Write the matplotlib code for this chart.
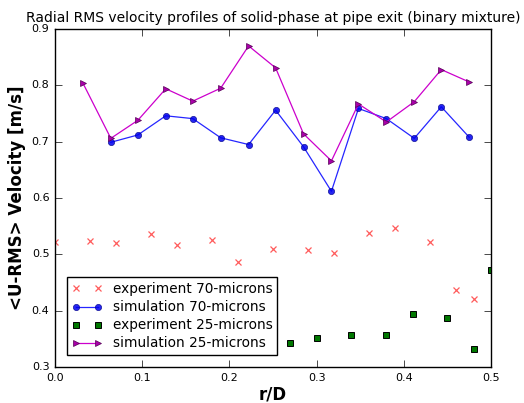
import matplotlib
matplotlib.use("Agg")
import matplotlib.pyplot as plt

plt.style.use("classic")

# experiment 70 microns
exp70_x = [0.0, 0.04, 0.07, 0.11, 0.14, 0.18, 0.21, 0.25, 0.29, 0.32, 0.36, 0.39, 0.43, 0.46, 0.48]
exp70_y = [0.522, 0.524, 0.520, 0.536, 0.517, 0.525, 0.487, 0.509, 0.508, 0.503, 0.538, 0.547, 0.522, 0.437, 0.421]

# simulation 70 microns
sim70_x = [0.064, 0.095, 0.127, 0.158, 0.190, 0.222, 0.253, 0.285, 0.317, 0.348, 0.380, 0.412, 0.443, 0.475]
sim70_y = [0.699, 0.712, 0.746, 0.741, 0.707, 0.695, 0.756, 0.691, 0.612, 0.759, 0.741, 0.706, 0.762, 0.708]

# experiment 25 microns
exp25_x = [0.27, 0.30, 0.34, 0.38, 0.41, 0.45, 0.48, 0.50]
exp25_y = [0.343, 0.351, 0.357, 0.357, 0.394, 0.387, 0.333, 0.472]

# simulation 25 microns
sim25_x = [0.032, 0.064, 0.095, 0.127, 0.158, 0.190, 0.222, 0.253, 0.285, 0.317, 0.348, 0.380, 0.412, 0.443, 0.475]
sim25_y = [0.804, 0.706, 0.738, 0.794, 0.772, 0.795, 0.870, 0.831, 0.714, 0.666, 0.767, 0.735, 0.771, 0.828, 0.806]

fig = plt.figure(figsize=(5.24, 4.03), dpi=100, facecolor="white")
ax = fig.add_axes([0.105, 0.089, 0.832, 0.839])

ax.plot(exp70_x, exp70_y, "x", color="#ff3333", alpha=0.8, ms=4.5, mew=0.9,
        label="experiment 70-microns")
ax.plot(sim70_x, sim70_y, "o-", color="#0000ff", mfc="#0000ee", mec="#000088",
        ms=4.5, lw=0.9, alpha=0.85, label="simulation 70-microns")
ax.plot(exp25_x, exp25_y, "s", color="#007700", mec="black", ms=4.5, mew=0.7,
        label="experiment 25-microns")
ax.plot(sim25_x, sim25_y, ">-", color="#cc00cc", mfc="#aa00aa", mec="#550055",
        ms=5, lw=0.9, label="simulation 25-microns")

ax.set_xlim(0, 0.5)
ax.set_ylim(0.3, 0.9)
ax.set_xticks([0.0, 0.1, 0.2, 0.3, 0.4, 0.5])
ax.set_yticks([0.3, 0.4, 0.5, 0.6, 0.7, 0.8, 0.9])
ax.tick_params(labelsize=8, direction="in", length=5)
ax.set_xlabel("r/D", fontsize=12, weight="bold", labelpad=2)
ax.set_ylabel("<U-RMS> Velocity [m/s]", fontsize=12, weight="bold", labelpad=4)
ax.set_title("Radial RMS velocity profiles of solid-phase at pipe exit (binary mixture)",
             fontsize=10, pad=5)
ax.grid(False)

leg = ax.legend(loc="lower left", numpoints=2, fontsize=9.8, frameon=True,
                borderpad=0.35, labelspacing=0.3, handlelength=2.2,
                bbox_to_anchor=(0.012, 0.015))
leg.get_frame().set_edgecolor("black")
leg.get_frame().set_linewidth(1)

fig.savefig("out.png", dpi=100, facecolor="white")
